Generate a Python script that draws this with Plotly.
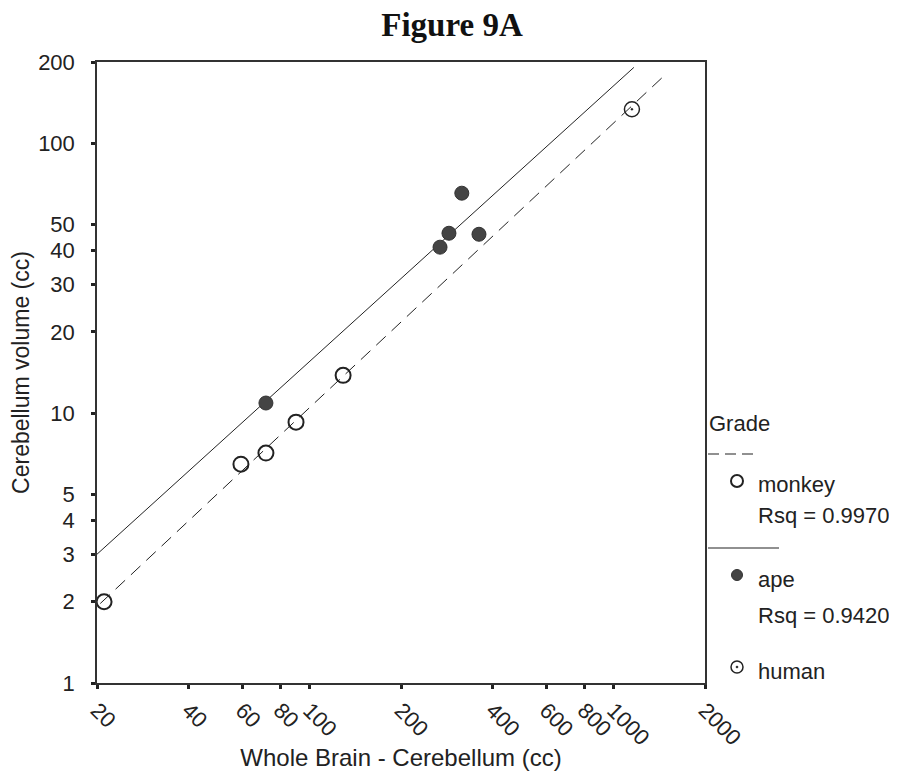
import plotly.graph_objects as go

# ---- data ----
monkey_x = [21.1, 59.5, 71.9, 90.3, 129.0]
monkey_y = [2.0, 6.47, 7.11, 9.26, 13.8]
ape_x = [71.9, 268.8, 287.6, 317.0, 361.0]
ape_y = [10.9, 41.2, 46.4, 65.3, 46.0]
human_x = [1150.0]
human_y = [133.6]

# fit lines (end points)
monkey_fit_x = [20.5, 1500.0]
monkey_fit_y = [1.97, 182.0]
ape_fit_x = [20.0, 1167.0]
ape_fit_y = [3.0, 191.0]

x_ticks = [20, 40, 60, 80, 100, 200, 400, 600, 800, 1000, 2000]
y_ticks = [1, 2, 3, 4, 5, 10, 20, 30, 40, 50, 100, 200]

monkey_rsq = "Rsq = 0.9970"
ape_rsq = "Rsq = 0.9420"

INK = "#222222"
SANS = "Liberation Sans, Arial, Helvetica, sans-serif"

# the page body has an 8px margin: figure is placed at (8, 8) in the window
OFF = 8
W, H = 897 - OFF, 773 - OFF
L = 97 - OFF
T = 62 - OFF
B = H - (683 - OFF)
R = 0
pw = W - L - R
split = (705 - 97) / pw

fig = go.Figure()

fig.add_trace(go.Scatter(x=monkey_fit_x, y=monkey_fit_y, mode="lines",
                         line=dict(color=INK, width=1, dash="13px,8px"),
                         showlegend=False, hoverinfo="skip"))
fig.add_trace(go.Scatter(x=ape_fit_x, y=ape_fit_y, mode="lines",
                         line=dict(color=INK, width=1),
                         showlegend=False, hoverinfo="skip"))
fig.add_trace(go.Scatter(x=monkey_x, y=monkey_y, mode="markers",
                         marker=dict(symbol="circle-open", size=15, color=INK,
                                     line=dict(width=2, color=INK)),
                         showlegend=False, cliponaxis=False))
fig.add_trace(go.Scatter(x=ape_x, y=ape_y, mode="markers",
                         marker=dict(symbol="circle", size=14, color="#444444",
                                     line=dict(width=1, color="#333333")),
                         showlegend=False, cliponaxis=False))
fig.add_trace(go.Scatter(x=human_x, y=human_y, mode="markers",
                         marker=dict(symbol="circle-open-dot", size=15, color=INK,
                                     line=dict(width=1.5, color=INK)),
                         showlegend=False, cliponaxis=False))

# ---- custom legend on an overlay axis whose units are window pixels ----
fig.add_trace(go.Scatter(x=[737], y=[481], mode="markers", xaxis="x2", yaxis="y2",
                         marker=dict(symbol="circle-open", size=12, color=INK,
                                     line=dict(width=2, color=INK)),
                         showlegend=False, cliponaxis=False, hoverinfo="skip"))
fig.add_trace(go.Scatter(x=[737], y=[575], mode="markers", xaxis="x2", yaxis="y2",
                         marker=dict(symbol="circle", size=11, color="#444444",
                                     line=dict(width=1, color="#333333")),
                         showlegend=False, cliponaxis=False, hoverinfo="skip"))
fig.add_trace(go.Scatter(x=[737], y=[667], mode="markers", xaxis="x2", yaxis="y2",
                         marker=dict(symbol="circle-open-dot", size=12, color=INK,
                                     line=dict(width=1.5, color=INK)),
                         showlegend=False, cliponaxis=False, hoverinfo="skip"))

legend_texts = [("Grade", 707, 423), ("monkey", 756, 484), (monkey_rsq, 756, 515),
                ("ape", 756, 579), (ape_rsq, 756, 615), ("human", 756, 671)]
annotations = []
for t, xx, yy in legend_texts:
    annotations.append(dict(text=t, x=xx, y=yy, xref="x2", yref="y2", showarrow=False,
                            xanchor="left", yanchor="middle",
                            font=dict(family=SANS, size=22, color=INK)))

shapes = [
    dict(type="line", xref="x2", yref="y2", x0=708, x1=753, y0=454, y1=454,
         line=dict(color=INK, width=1.2, dash="11px,6px")),
    dict(type="line", xref="x2", yref="y2", x0=708, x1=779, y0=548, y1=548,
         line=dict(color=INK, width=1.2)),
]

fig.update_layout(
    width=W, height=H,
    margin=dict(l=L, r=R, t=T, b=B, autoexpand=False),
    paper_bgcolor="white", plot_bgcolor="white",
    title=dict(text="<b>Figure 9A</b>", x=(452 - OFF) / W, xref="container",
               xanchor="center", y=1 - (24 - OFF) / H, yref="container", yanchor="middle",
               font=dict(family="Liberation Serif, Times New Roman, serif", size=33, color="#111111")),
    xaxis=dict(type="log", domain=[0, split], automargin=False,
               range=[1.30103, 3.30103],
               tickmode="array", tickvals=x_ticks, ticktext=[str(v) for v in x_ticks],
               tickangle=45, ticks="outside", ticklen=4, tickwidth=3, tickcolor=INK,
               showline=True, linecolor="#333333", linewidth=1.5, mirror=True,
               showgrid=False, zeroline=False,
               tickfont=dict(family=SANS, size=22, color=INK),
               title=dict(text="Whole Brain - Cerebellum (cc)", standoff=0,
                          font=dict(family=SANS, size=24, color=INK))),
    yaxis=dict(type="log", domain=[0, 1], automargin=False,
               range=[0, 2.30103],
               tickmode="array", tickvals=y_ticks, ticktext=[str(v) for v in y_ticks],
               ticks="outside", ticklen=4, tickwidth=3, tickcolor=INK,
               ticklabelstandoff=12,
               showline=True, linecolor="#333333", linewidth=1.5, mirror=True,
               showgrid=False, zeroline=False,
               tickfont=dict(family=SANS, size=22, color=INK),
               title=dict(text="Cerebellum volume (cc)", standoff=8,
                          font=dict(family=SANS, size=23, color=INK))),
    xaxis2=dict(domain=[split, 1], range=[705, 897], visible=False, anchor="y2"),
    yaxis2=dict(domain=[0, 1], range=[683, 62], visible=False, anchor="x2"),
    annotations=annotations,
    shapes=shapes,
)

fig.write_html("out.html")
